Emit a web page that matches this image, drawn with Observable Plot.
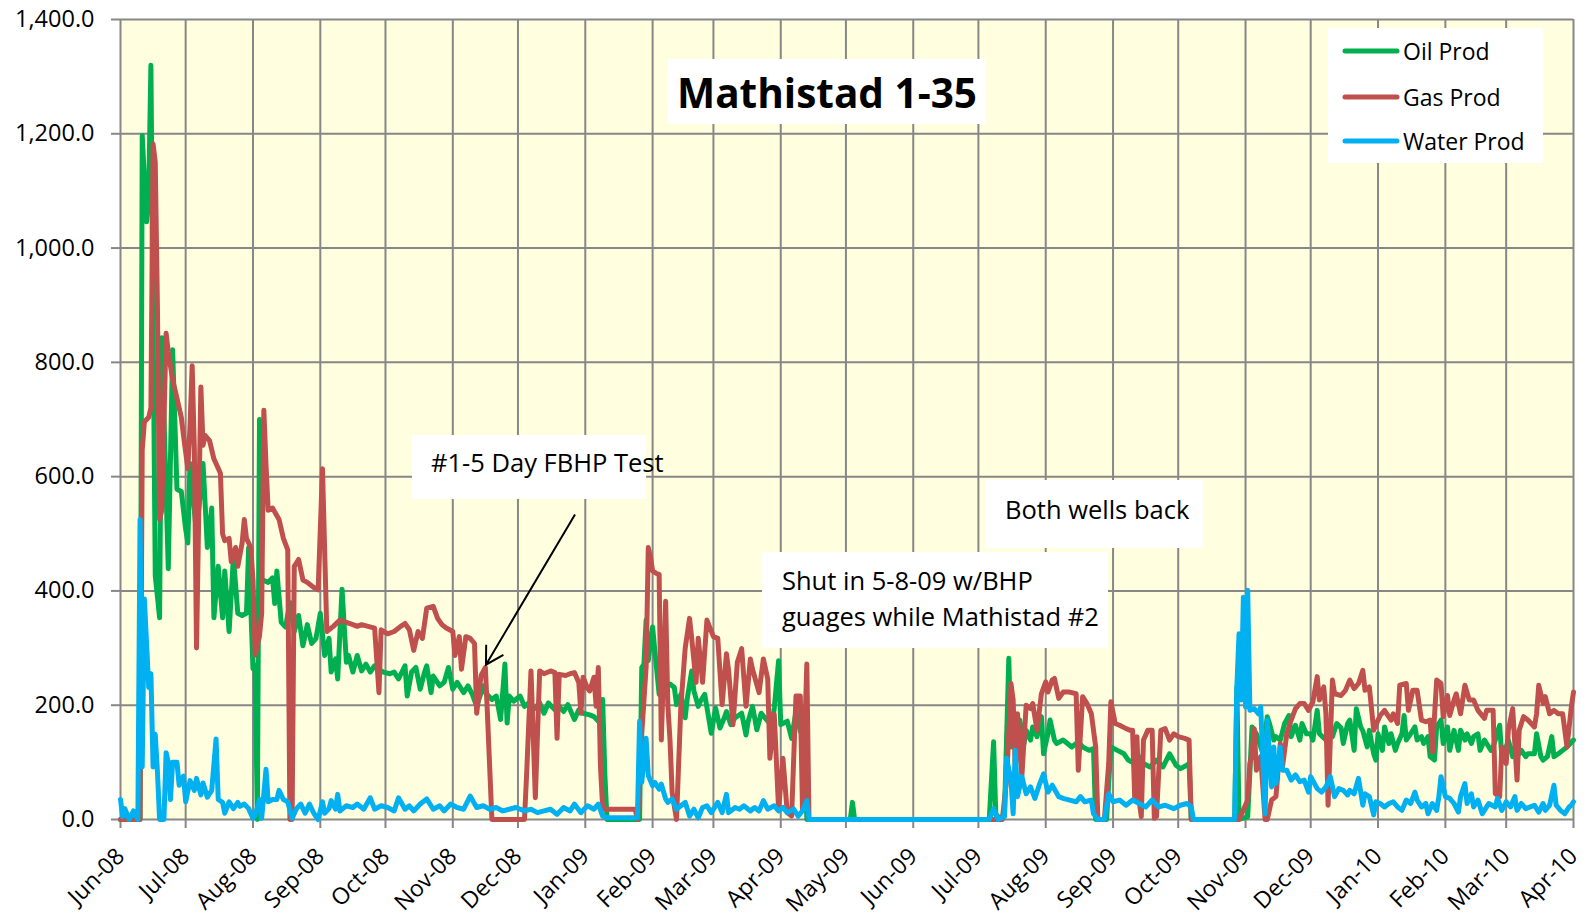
<!DOCTYPE html>
<html>
<head>
<meta charset="utf-8">
<script src="https://cdn.jsdelivr.net/npm/d3@7"></script>
<script src="https://cdn.jsdelivr.net/npm/@observablehq/plot@0.6"></script>
<style>
  html, body { margin: 0; padding: 0; background: #ffffff; }
  #chart { width: 1591px; height: 920px; }
</style>
</head>
<body>
<div id="chart"></div>
<script>
// ---------- DATA (day offset from 1 Jun 2008, value) ----------
const startDate = "2008-06-01";
const endDate = "2010-04-01";
const seriesNames = ["Oil Prod", "Gas Prod", "Water Prod"];
const yTickValues = [0, 200, 400, 600, 800, 1000, 1200, 1400];
const chartTitle = "Mathistad 1-35";

const oilSeries = [[0,0],[3,0],[6,0],[9,0],[10,1197],[12,1046],[13,1100],[14,1320],[16,427],[18,353],[19,843],[22,439],[24,822],[26,578],[28,574],[30,508],[31,484],[32,623],[35,500],[38,623],[40,476],[42,545],[43,353],[45,443],[47,353],[48,435],[50,329],[52,459],[54,361],[56,357],[58,361],[59,476],[61,264],[62,270],[63,0],[64,700],[65,420],[68,415],[70,423],[71,378],[72,435],[74,345],[76,337],[78,380],[80,329],[82,357],[84,304],[86,341],[88,308],[90,317],[92,361],[94,287],[96,317],[97,258],[99,281],[100,246],[102,403],[104,275],[105,287],[107,258],[109,287],[111,260],[113,272],[115,258],[117,269],[119,262],[121,258],[124,255],[126,258],[128,246],[131,269],[132,216],[134,258],[136,266],[138,228],[140,258],[141,269],[143,222],[144,251],[147,234],[149,240],[151,266],[153,228],[155,240],[158,222],[160,234],[162,219],[164,198],[167,234],[168,222],[171,210],[173,216],[175,175],[177,272],[178,169],[179,216],[181,207],[184,216],[186,198],[188,204],[190,192],[193,204],[195,186],[197,204],[200,192],[202,198],[204,189],[206,201],[209,175],[211,192],[213,186],[216,183],[218,180],[220,172],[222,210],[223,80],[224,0],[230,0],[238,0],[239,0],[240,266],[241,272],[242,349],[243,278],[244,308],[245,337],[246,296],[248,219],[249,266],[250,231],[253,237],[255,231],[256,201],[258,219],[260,178],[261,213],[263,260],[264,225],[266,198],[267,207],[269,219],[272,151],[274,195],[276,160],[278,178],[279,189],[281,166],[283,178],[286,186],[288,148],[289,172],[291,198],[293,157],[295,186],[298,172],[300,166],[301,195],[303,278],[304,166],[307,172],[309,142],[311,189],[313,154],[315,180],[316,0],[336,0],[337,30],[338,0],[400,0],[402,136],[403,10],[405,0],[407,10],[409,282],[410,127],[411,162],[413,127],[414,174],[416,133],[417,156],[419,139],[420,162],[422,145],[424,180],[425,115],[427,150],[428,174],[430,139],[431,133],[434,139],[436,133],[438,127],[441,136],[443,127],[446,121],[448,124],[449,0],[454,0],[456,127],[459,121],[462,115],[464,104],[467,98],[469,110],[471,98],[474,92],[477,104],[480,92],[483,115],[486,95],[488,89],[491,95],[492,98],[493,0],[513,0],[514,232],[515,0],[519,5],[521,162],[523,150],[526,115],[528,180],[529,168],[531,139],[532,145],[534,139],[536,168],[538,182],[539,145],[541,165],[543,139],[544,168],[546,150],[548,150],[549,139],[551,191],[552,150],[555,139],[556,156],[558,145],[560,168],[562,160],[563,133],[565,168],[566,174],[568,121],[569,194],[571,162],[572,155],[574,127],[575,156],[577,115],[578,104],[579,150],[581,121],[582,162],[584,133],[585,150],[587,121],[588,133],[590,150],[591,182],[592,139],[594,150],[596,162],[597,139],[599,145],[600,133],[602,145],[603,110],[605,104],[606,162],[608,174],[609,133],[611,162],[612,121],[614,156],[616,121],[617,156],[619,139],[620,150],[622,133],[623,145],[625,150],[626,121],[628,139],[629,133],[631,121],[632,127],[635,165],[636,110],[638,127],[639,139],[641,110],[642,127],[644,115],[645,121],[647,110],[648,115],[651,115],[652,150],[654,110],[655,104],[657,110],[659,145],[660,110],[662,115],[664,121],[666,127],[669,139]];

const gasSeries = [[0,0],[5,0],[9,0],[10,647],[11,696],[13,704],[14,720],[15,1182],[16,1150],[17,900],[18,525],[19,541],[21,851],[22,818],[24,770],[26,737],[28,704],[29,672],[31,614],[32,688],[33,794],[34,647],[35,300],[37,757],[38,655],[39,672],[41,663],[43,631],[44,623],[46,606],[47,500],[48,488],[50,492],[51,451],[53,476],[54,443],[56,484],[57,525],[58,492],[60,476],[61,419],[62,288],[64,321],[65,361],[66,716],[67,620],[68,541],[70,545],[73,525],[75,492],[77,472],[78,0],[79,0],[80,443],[82,455],[84,419],[86,415],[89,406],[91,402],[93,614],[95,329],[98,338],[101,349],[104,345],[107,341],[109,338],[111,341],[114,338],[117,335],[119,222],[120,332],[123,325],[126,329],[129,338],[131,343],[133,332],[135,296],[137,329],[139,317],[141,370],[144,373],[146,352],[148,341],[150,335],[153,329],[154,287],[156,320],[157,263],[159,320],[161,317],[163,308],[164,186],[166,252],[168,266],[169,180],[171,0],[186,0],[187,80],[189,260],[190,150],[191,38],[192,150],[193,260],[195,255],[198,260],[200,257],[201,142],[202,254],[205,252],[207,255],[209,257],[211,240],[212,186],[213,249],[215,230],[216,225],[218,249],[219,198],[220,266],[221,92],[222,21],[223,18],[237,18],[238,0],[239,60],[240,150],[242,266],[243,476],[244,460],[245,435],[247,430],[248,429],[249,139],[251,382],[252,200],[253,139],[254,47],[256,0],[258,198],[260,300],[262,352],[263,317],[265,240],[266,317],[268,240],[270,349],[273,320],[275,317],[277,201],[279,290],[280,260],[282,166],[284,275],[286,299],[288,198],[290,281],[291,263],[294,222],[296,281],[298,246],[299,107],[301,184],[303,18],[305,107],[307,12],[309,6],[311,216],[313,216],[314,18],[316,272],[317,0],[400,0],[406,0],[408,69],[410,238],[411,209],[412,86],[413,185],[415,75],[417,200],[419,194],[420,203],[422,156],[424,220],[426,241],[427,223],[429,244],[430,247],[432,212],[434,223],[437,223],[440,220],[441,86],[443,215],[445,203],[447,185],[449,127],[450,0],[453,0],[455,98],[456,206],[458,168],[460,165],[463,159],[465,156],[466,156],[467,34],[468,145],[469,34],[470,5],[471,139],[473,156],[475,156],[476,2],[477,5],[479,156],[481,159],[483,139],[485,150],[487,145],[490,142],[492,139],[493,0],[515,0],[519,34],[520,98],[521,115],[522,159],[523,86],[525,110],[527,0],[528,0],[530,34],[532,40],[534,133],[535,92],[537,150],[539,174],[541,194],[543,203],[545,203],[547,191],[549,206],[551,250],[552,209],[554,232],[555,185],[556,25],[558,244],[559,220],[562,217],[564,226],[566,244],[568,229],[570,238],[572,261],[573,226],[575,232],[577,156],[579,174],[580,182],[582,191],[583,185],[585,174],[586,185],[588,168],[589,235],[592,238],[593,191],[595,226],[597,226],[599,174],[601,171],[603,174],[604,118],[606,244],[608,238],[609,180],[611,217],[612,182],[614,209],[615,220],[617,185],[619,235],[621,209],[623,209],[625,191],[628,177],[629,191],[632,191],[633,45],[635,40],[636,127],[638,98],[639,156],[641,194],[643,69],[644,156],[646,180],[648,174],[651,162],[652,185],[653,235],[655,203],[656,215],[658,185],[660,191],[662,185],[664,185],[666,127],[668,197],[669,223]];

const waterSeries = [[0,35],[1,5],[2,19],[4,0],[6,15],[8,0],[9,525],[10,92],[11,386],[13,231],[14,255],[15,92],[16,149],[17,84],[18,0],[20,0],[21,117],[22,100],[23,35],[24,100],[26,100],[27,60],[29,76],[30,31],[32,68],[34,51],[35,72],[37,43],[38,64],[40,39],[42,51],[44,141],[45,35],[47,30],[48,11],[50,31],[52,19],[54,30],[55,23],[57,27],[59,19],[61,2],[62,7],[64,35],[65,2],[67,88],[68,31],[70,35],[72,35],[73,51],[75,35],[77,31],[79,2],[81,19],[83,27],[85,11],[87,27],[89,11],[91,0],[93,31],[94,11],[96,19],[97,33],[99,18],[100,44],[101,15],[104,24],[107,21],[109,27],[112,18],[115,38],[117,18],[120,24],[123,21],[126,15],[128,38],[131,18],[133,24],[135,15],[138,27],[141,36],[144,18],[147,24],[149,15],[152,27],[155,21],[158,18],[161,41],[164,21],[167,24],[170,18],[173,21],[176,15],[179,18],[182,21],[186,15],[189,18],[192,12],[195,15],[198,18],[201,9],[204,21],[207,15],[209,27],[212,12],[215,24],[218,18],[220,27],[222,6],[224,3],[230,3],[238,3],[239,172],[240,65],[242,142],[243,77],[245,59],[246,65],[248,53],[249,62],[251,36],[252,30],[254,36],[256,18],[258,24],[260,30],[262,6],[264,18],[266,3],[268,21],[270,24],[272,12],[275,30],[277,12],[279,44],[280,12],[283,21],[285,18],[287,24],[290,15],[292,21],[294,15],[296,33],[298,18],[301,24],[303,15],[305,21],[307,12],[310,18],[312,6],[314,15],[316,33],[317,0],[400,0],[402,19],[404,0],[407,5],[408,107],[410,69],[411,10],[412,121],[413,40],[415,75],[417,45],[419,57],[421,37],[423,60],[425,80],[427,48],[429,60],[432,40],[434,37],[437,34],[440,31],[442,40],[444,31],[447,34],[448,10],[450,0],[453,0],[455,45],[457,31],[460,34],[463,25],[466,34],[469,28],[472,22],[475,34],[478,22],[481,25],[485,19],[488,25],[491,28],[493,22],[494,0],[513,0],[514,232],[515,325],[516,209],[517,389],[518,197],[519,401],[520,191],[522,194],[524,185],[525,197],[526,98],[527,10],[528,174],[530,57],[531,127],[532,63],[534,127],[535,86],[537,86],[539,69],[541,78],[543,66],[545,69],[547,48],[548,75],[551,54],[553,48],[555,57],[557,75],[559,40],[561,54],[563,51],[565,43],[566,51],[568,45],[570,72],[572,25],[573,45],[575,40],[577,8],[578,31],[580,28],[582,22],[584,28],[586,31],[588,22],[590,16],[592,34],[594,28],[596,48],[597,34],[599,22],[601,28],[602,10],[604,28],[606,16],[607,40],[608,75],[610,40],[612,37],[614,28],[616,13],[617,40],[619,63],[620,28],[622,45],[623,22],[625,34],[627,10],[629,22],[630,28],[633,22],[634,37],[636,16],[638,31],[640,22],[642,40],[643,16],[645,28],[647,19],[651,25],[653,13],[655,28],[656,16],[658,25],[660,60],[661,25],[663,16],[665,10],[667,22],[668,25],[669,31]];

const annotationArrow = [{fromDay: 209.5, fromValue: 533, toDay: 168.5, toValue: 270}];

// ---------- BUILD ----------
const t0 = new Date(startDate + "T00:00:00Z");
const toDate = d => new Date(t0.getTime() + d * 86400000);
const toRows = (pairs, name) => pairs.map(([d, v]) => ({date: toDate(d), value: v, series: name}));
const oilRows = toRows(oilSeries, seriesNames[0]);
const gasRows = toRows(gasSeries, seriesNames[1]);
const waterRows = toRows(waterSeries, seriesNames[2]);
const arrowRows = annotationArrow.map(a => ({x1: toDate(a.fromDay), y1: a.fromValue, x2: toDate(a.toDay), y2: a.toValue}));

const monthTicks = d3.utcMonth.range(t0, d3.utcDay.offset(new Date(endDate + "T00:00:00Z"), 1));
const colors = {oil: "#00B050", gas: "#C0504D", water: "#00B0F0"};
const gridColor = "#878787";
const FONT = "'Open Sans', sans-serif";
const LW = 5;

const plot = Plot.plot({
  width: 1591,
  height: 920,
  marginLeft: 120,
  marginRight: 18,
  marginTop: 19,
  marginBottom: 101,
  style: {fontFamily: FONT, fontSize: "23px", color: "#000", background: "#ffffff", overflow: "visible"},
  x: {type: "utc", domain: [t0, new Date(endDate + "T00:00:00Z")]},
  y: {domain: [0, 1400]},
  marks: [
    Plot.frame({fill: "#FFFFE0", stroke: null}),
    Plot.gridX(monthTicks, {stroke: gridColor, strokeOpacity: 1, strokeWidth: 2}),
    Plot.gridY(yTickValues, {stroke: gridColor, strokeOpacity: 1, strokeWidth: 2}),
    Plot.axisY(yTickValues, {tickFormat: d3.format(",.1f"), tickSize: 9, tickPadding: 17, stroke: gridColor, strokeWidth: 2, fontSize: 23.5, label: null}),
    Plot.axisX(monthTicks, {tickFormat: d3.utcFormat("%b-%y"), tickRotate: -45, tickSize: 9, tickPadding: 24, stroke: gridColor, strokeWidth: 2, fontSize: 23, label: null}),
    Plot.line(oilRows, {x: "date", y: "value", stroke: colors.oil, strokeWidth: LW, strokeLinejoin: "round", strokeLinecap: "round"}),
    Plot.line(gasRows, {x: "date", y: "value", stroke: colors.gas, strokeWidth: LW, strokeLinejoin: "round", strokeLinecap: "round"}),
    Plot.line(waterRows, {x: "date", y: "value", stroke: colors.water, strokeWidth: LW, strokeLinejoin: "round", strokeLinecap: "round"})
  ]
});

document.getElementById("chart").appendChild(plot);

// ---------- overlays: title, legend, annotations ----------
const svg = d3.select(plot);
const ov = svg.append("g").attr("font-family", FONT).attr("fill", "#000").attr("text-anchor", "start");

// Title box
ov.append("rect").attr("x", 668).attr("y", 59).attr("width", 318).attr("height", 65).attr("fill", "#fff");
ov.append("text").attr("x", 827).attr("y", 92).attr("text-anchor", "middle").attr("dominant-baseline", "central")
  .attr("font-weight", "bold").attr("font-size", 40.5).text(chartTitle);

// Legend
ov.append("rect").attr("x", 1328).attr("y", 28).attr("width", 215).attr("height", 135).attr("fill", "#fff");
const legendItems = [[seriesNames[0], colors.oil, 51], [seriesNames[1], colors.gas, 97], [seriesNames[2], colors.water, 141]];
legendItems.forEach(([name, c, y]) => {
  ov.append("line").attr("x1", 1345).attr("x2", 1397).attr("y1", y).attr("y2", y)
    .attr("stroke", c).attr("stroke-width", 5).attr("stroke-linecap", "round");
  ov.append("text").attr("x", 1403).attr("y", y).attr("text-anchor", "start").attr("dominant-baseline", "central").attr("font-size", 23).text(name);
});

// Annotation 1
ov.append("rect").attr("x", 412).attr("y", 435).attr("width", 234).attr("height", 64).attr("fill", "#fff");
ov.append("text").attr("x", 431).attr("y", 462).attr("text-anchor", "start").attr("dominant-baseline", "central").attr("font-size", 25.5).text("#1-5 Day FBHP Test");

// Annotation 2
ov.append("rect").attr("x", 762).attr("y", 552).attr("width", 346).attr("height", 96).attr("fill", "#fff");
ov.append("text").attr("x", 782).attr("y", 580).attr("text-anchor", "start").attr("dominant-baseline", "central").attr("font-size", 25.5).text("Shut in 5-8-09 w/BHP");
ov.append("text").attr("x", 782).attr("y", 616).attr("text-anchor", "start").attr("dominant-baseline", "central").attr("font-size", 25.5).text("guages while Mathistad #2");

// Annotation 3
ov.append("rect").attr("x", 985).attr("y", 480).attr("width", 218).attr("height", 68).attr("fill", "#fff");
ov.append("text").attr("x", 1005).attr("y", 509).attr("text-anchor", "start").attr("dominant-baseline", "central").attr("font-size", 25.5).text("Both wells back");

// Arrow (positioned through the Plot scales)
const xs = plot.scale("x"), ys = plot.scale("y");
arrowRows.forEach(a => {
  const x1 = xs.apply(a.x1), y1 = ys.apply(a.y1), x2 = xs.apply(a.x2), y2 = ys.apply(a.y2);
  const ang = Math.atan2(y2 - y1, x2 - x1);
  const L = 20, h = Math.PI / 6;
  const p = `M${x1},${y1}L${x2},${y2}M${x2 - L*Math.cos(ang - h)},${y2 - L*Math.sin(ang - h)}L${x2},${y2}L${x2 - L*Math.cos(ang + h)},${y2 - L*Math.sin(ang + h)}`;
  ov.append("path").attr("d", p).attr("fill", "none").attr("stroke", "#000").attr("stroke-width", 2);
});
</script>
</body>
</html>
